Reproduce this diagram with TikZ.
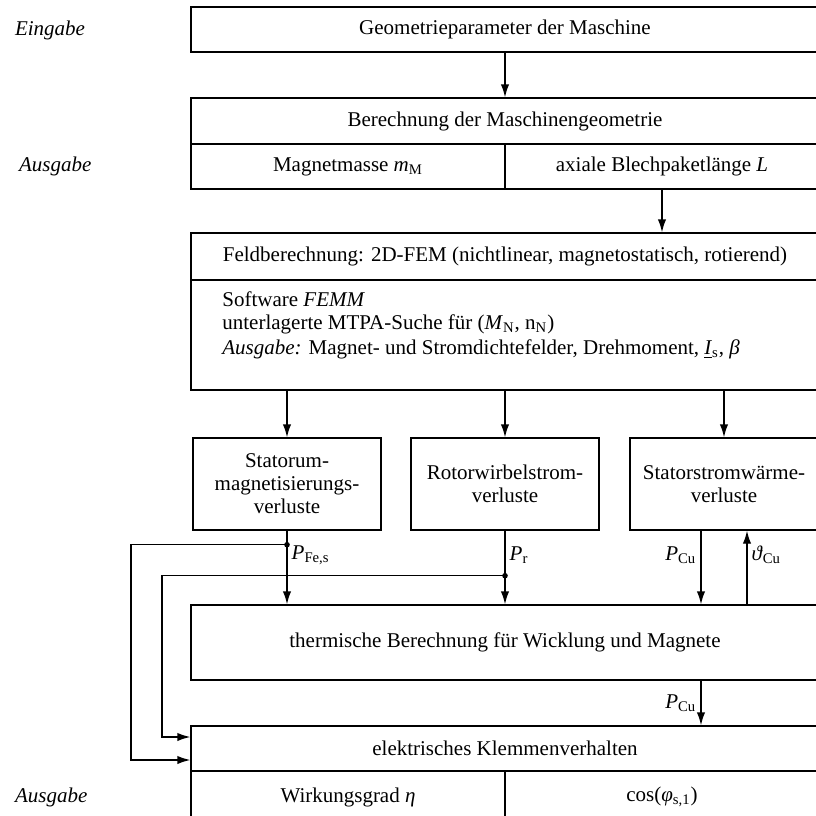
\documentclass[tikz,border=0pt]{standalone}
\usepackage{fontspec}
\setmainfont{Liberation Serif}
\usetikzlibrary{arrows.meta}

\begin{document}
\begin{tikzpicture}[x=0.5pt, y=-0.5pt, font=\fontsize{10.5}{11.5}\selectfont,
	box/.style={draw, line width=0.7pt, inner sep=0pt, align=center},
	pfeil/.style={line width=0.7pt, -{Latex[length=6.5pt,width=4.2pt]}},
	lbl/.style={inner sep=2pt}]
	\useasboundingbox (0,0) rectangle (816,816);
	
	\draw (8,30) node[anchor=west] (ein) {\textit{Eingabe}};
	\draw (12,166.5) node[anchor=west] (aus1) {\textit{Ausgabe}};
	\draw (8,797) node[anchor=west] (aus2) {\textit{Ausgabe}};
	
	\draw (505,29.5) node[box, minimum width=314pt, minimum height=22.5pt] (geo) {Geometrieparameter der Maschine};
	\draw (505,121) node[box, minimum width=314pt, minimum height=23pt] (mgeo) {Berechnung der Maschinengeometrie};
	\draw (348,166.5) node[box, minimum width=157pt, minimum height=22.5pt] (mm) {Magnetmasse \textit{m}\textsubscript{M}};
	\draw (662,166.5) node[box, minimum width=157pt, minimum height=22.5pt] (blech) {axiale Blechpaketlänge \textit{L}};
	
	\draw (505,256.5) node[box, minimum width=314pt, minimum height=23.5pt] (feld) {Feldberechnung: 2D-FEM (nichtlinear, magnetostatisch, rotierend)};
	\draw (505,335) node[box, minimum width=314pt, minimum height=55pt] (feldin) {};
	\draw (222,299) node[anchor=west, inner sep=0pt] (femm) {Software \textit{FEMM}};
	\draw (222,324) node[anchor=west, inner sep=0pt] (mtpa) {unterlagerte MTPA-Suche für (\textit{M}\textsubscript{N}, n\textsubscript{N})};
	\draw (222,349) node[anchor=west, inner sep=0pt] (ausf) {\textit{Ausgabe:} Magnet- und Stromdichtefelder, Drehmoment, \underline{\textit{I}}\textsubscript{s}, \textit{β}};
	
	\draw (287,484) node[box, minimum width=94pt, minimum height=46pt] (stum) {Statorum-\\magnetisierungs-\\verluste};
	\draw (505,484) node[box, minimum width=94pt, minimum height=46pt] (rot) {Rotorwirbelstrom-\\verluste};
	\draw (724,484) node[box, minimum width=94pt, minimum height=46pt] (sst) {Statorstromwärme-\\verluste};
	
	\draw (505,642.5) node[box, minimum width=314pt, minimum height=37.5pt] (therm) {thermische Berechnung für Wicklung und Magnete};
	\draw (505,748.5) node[box, minimum width=314pt, minimum height=22.5pt] (klemm) {elektrisches Klemmenverhalten};
	\draw (348,797) node[box, minimum width=157pt, minimum height=26pt] (wirk) {Wirkungsgrad \textit{η}};
	\draw (662,797) node[box, minimum width=157pt, minimum height=26pt] (cosphi) {cos(\textit{φ}\textsubscript{s,1})};
	
	\draw[pfeil] (geo) -- (mgeo);
	\draw[pfeil] (blech) -- (blech |- feld.north);
	\draw[pfeil] (feldin.south -| stum) -- (stum);
	\draw[pfeil] (feldin.south -| rot) -- (rot);
	\draw[pfeil] (feldin.south -| sst) -- (sst);
	
	\coordinate (dfe) at ([yshift=-7pt]stum.south);
	\coordinate (dr) at ([yshift=-22.5pt]rot.south);
	\coordinate (pcu) at ([xshift=-11.5pt]sst.south);
	\coordinate (thcu) at ([xshift=11.5pt]sst.south);
	
	\draw[pfeil] (stum) -- (stum |- therm.north) node[lbl, pos=0.33, right] (lfe) {\textit{P}\textsubscript{Fe,s}};
	\draw[pfeil] (rot) -- (rot |- therm.north) node[lbl, pos=0.33, right] (lr) {\textit{P}\textsubscript{r}};
	\draw[pfeil] (pcu) -- (pcu |- therm.north) node[lbl, pos=0.33, left] (lcu) {\textit{P}\textsubscript{Cu}};
	\draw[pfeil] (thcu |- therm.north) -- (thcu) node[lbl, pos=0.67, right] (lth) {\textit{ϑ}\textsubscript{Cu}};
	\draw[pfeil] (pcu |- therm.south) -- (pcu |- klemm.north) node[lbl, midway, left] (lcu2) {\textit{P}\textsubscript{Cu}};
	
	\draw[pfeil] (dfe) -- ++(-156,0) |- ([yshift=-5.75pt]klemm.west);
	\draw[pfeil] (dr) -- ++(-343,0) |- ([yshift=5.75pt]klemm.west);
	\fill (dfe) circle (2.8);
	\fill (dr) circle (2.8);
\end{tikzpicture}
\end{document}
